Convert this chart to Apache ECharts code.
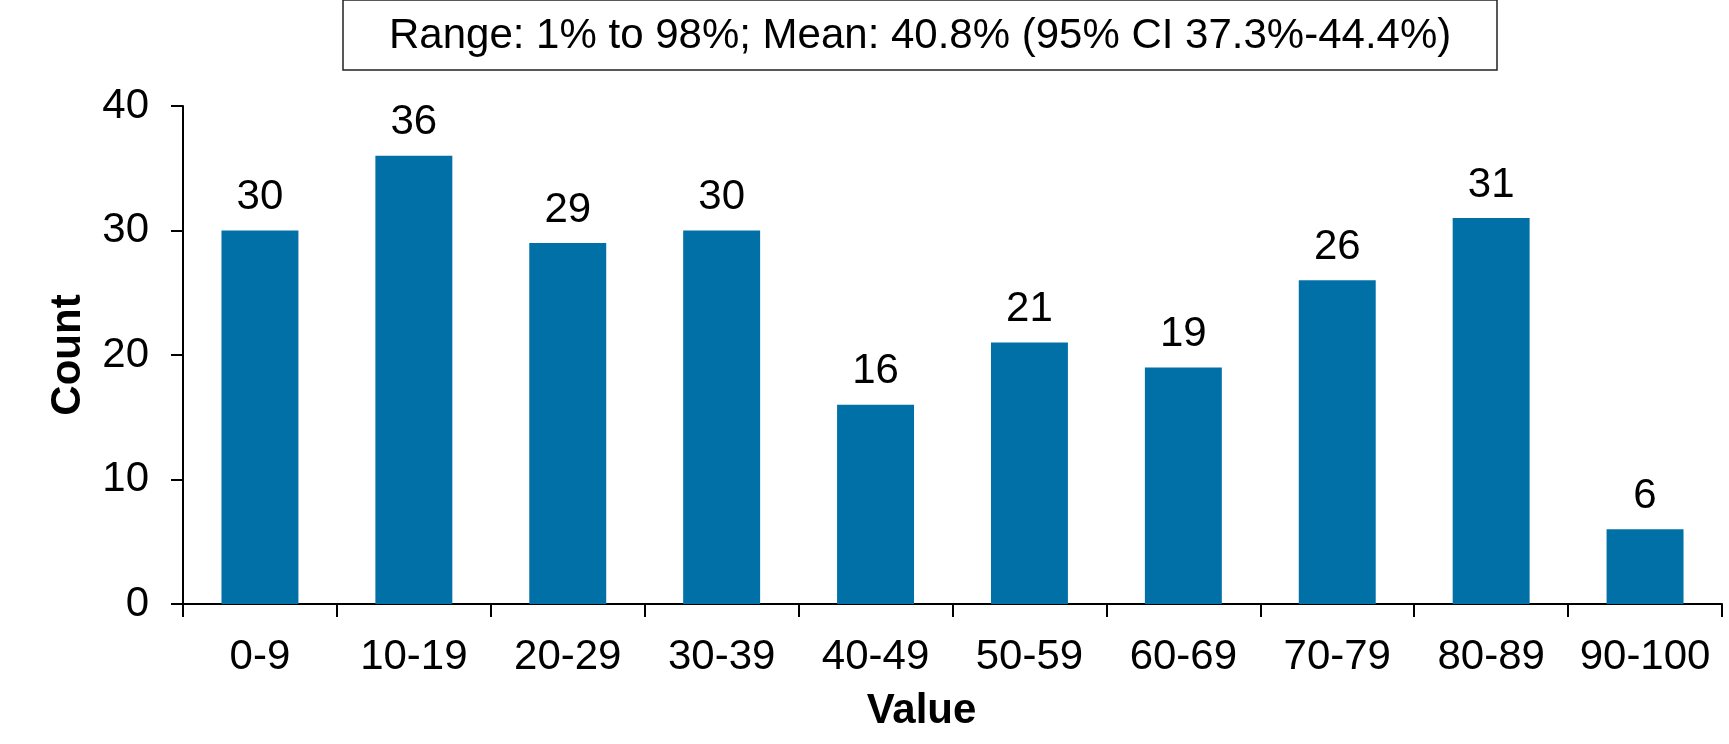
<!DOCTYPE html>
<html>
<head>
<meta charset="utf-8">
<script src="https://cdn.jsdelivr.net/npm/echarts@6/dist/echarts.min.js"></script>
<style>
  html, body { margin: 0; padding: 0; background: #fff; }
  #chart { width: 1729px; height: 744px; }
</style>
</head>
<body>
<div id="chart"></div>
<script>
var categories = ['0-9', '10-19', '20-29', '30-39', '40-49', '50-59', '60-69', '70-79', '80-89', '90-100'];
var counts = [30, 36, 29, 30, 16, 21, 19, 26, 31, 6];
var yTicks = [0, 10, 20, 30, 40];
var summaryText = 'Range: 1% to 98%; Mean: 40.8% (95% CI 37.3%-44.4%)';

var chart = echarts.init(document.getElementById('chart'));
var font = 'Liberation Sans, Arial, sans-serif';

var option = {
    animation: false,
    title: {
        text: summaryText,
        left: 343,
        top: 0,
        padding: [15, 46, 13, 46],
        borderColor: '#222',
        borderWidth: 1.5,
        textStyle: {
            fontFamily: font,
            fontSize: 42,
            fontWeight: 'normal',
            color: '#000'
        }
    },
    grid: {
        left: 183,
        right: 7,
        top: 106,
        bottom: 140
    },
    xAxis: {
        type: 'category',
        data: categories,
        name: 'Value',
        nameLocation: 'middle',
        nameGap: 86,
        nameTextStyle: { fontFamily: font, fontSize: 42, fontWeight: 'bold', color: '#000', padding: [0, 62, 0, 0] },
        axisLine: { lineStyle: { color: '#000', width: 2 } },
        axisTick: { show: true, interval: 0, length: 13, lineStyle: { color: '#000', width: 2 } },
        axisLabel: { interval: 0, fontFamily: font, fontSize: 42, color: '#000', margin: 32 }
    },
    yAxis: {
        type: 'value',
        min: yTicks[0],
        max: yTicks[yTicks.length - 1],
        interval: 10,
        name: 'Count',
        nameLocation: 'middle',
        nameGap: 94,
        nameTextStyle: { fontFamily: font, fontSize: 42, fontWeight: 'bold', color: '#000' },
        splitLine: { show: false },
        axisLine: { show: true, lineStyle: { color: '#000', width: 2 } },
        axisTick: { show: true, length: 12, lineStyle: { color: '#000', width: 2 } },
        axisLabel: { fontFamily: font, fontSize: 42, color: '#000', margin: 34 }
    },
    series: [{
        type: 'bar',
        data: counts,
        barWidth: '50%',
        itemStyle: { color: '#0070A7' },
        label: {
            show: true,
            position: 'top',
            distance: 12,
            fontFamily: font,
            fontSize: 42,
            color: '#000'
        }
    }]
};
chart.setOption(option);
</script>
</body>
</html>
